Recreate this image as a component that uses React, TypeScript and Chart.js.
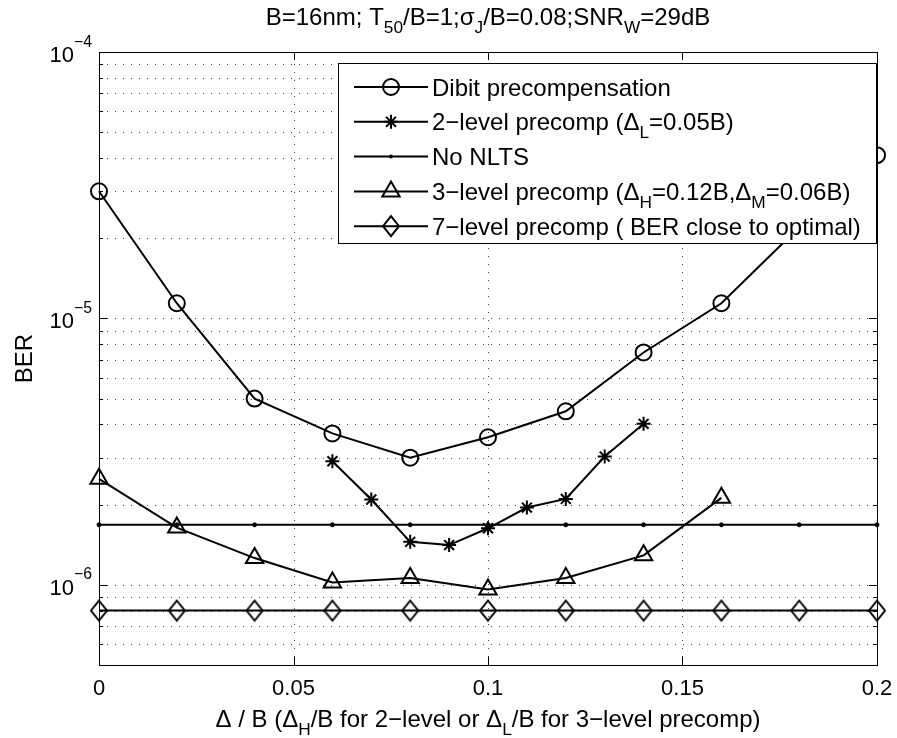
import React, { useEffect, useRef } from 'react';
import { Chart, registerables } from 'chart.js';

Chart.register(...registerables);

// ---------- data ----------
const xFull = [0, 0.02, 0.04, 0.06, 0.08, 0.1, 0.12, 0.14, 0.16, 0.18, 0.2];
const dibitBER = [3.0e-5, 1.14e-5, 5.0e-6, 3.7e-6, 3.0e-6, 3.58e-6, 4.48e-6, 7.45e-6, 1.14e-5, 2.2e-5, 4.1e-5];

const x2Level = [0.06, 0.07, 0.08, 0.09, 0.1, 0.11, 0.12, 0.13, 0.14];
const twoLevelBER = [2.91e-6, 2.09e-6, 1.45e-6, 1.41e-6, 1.63e-6, 1.95e-6, 2.1e-6, 3.03e-6, 4.02e-6];

const noNltsBER = [1.68e-6, 1.68e-6, 1.68e-6, 1.68e-6, 1.68e-6, 1.68e-6, 1.68e-6, 1.68e-6, 1.68e-6, 1.68e-6, 1.68e-6];

const x3Level = [0, 0.02, 0.04, 0.06, 0.08, 0.1, 0.12, 0.14, 0.16];
const threeLevelBER = [2.5e-6, 1.64e-6, 1.26e-6, 1.02e-6, 1.06e-6, 9.6e-7, 1.06e-6, 1.29e-6, 2.12e-6];

const sevenLevelBER = [8.0e-7, 8.0e-7, 8.0e-7, 8.0e-7, 8.0e-7, 8.0e-7, 8.0e-7, 8.0e-7, 8.0e-7, 8.0e-7, 8.0e-7];

const xTicks = [0, 0.05, 0.1, 0.15, 0.2];
const xTickLabels = ['0', '0.05', '0.1', '0.15', '0.2'];
const yDecades = [1e-6, 1e-5, 1e-4];
const yDecadeExp = ['\u22126', '\u22125', '\u22124'];
const yMinor = [
  5e-7, 6e-7, 7e-7, 8e-7, 9e-7,
  2e-6, 3e-6, 4e-6, 5e-6, 6e-6, 7e-6, 8e-6, 9e-6,
  2e-5, 3e-5, 4e-5, 5e-5, 6e-5, 7e-5, 8e-5, 9e-5,
];
const yMin = 5e-7;
const yMax = 1e-4;

type Seg = [string, '' | 'sub' | 'sup'];
const titleSegs: Seg[] = [['B=16nm; T', ''], ['50', 'sub'], ['/B=1;\u03c3', ''], ['J', 'sub'], ['/B=0.08;SNR', ''], ['W', 'sub'], ['=29dB', '']];
const xLabelSegs: Seg[] = [['\u0394 / B (\u0394', ''], ['H', 'sub'], ['/B for 2\u2212level or \u0394', ''], ['L', 'sub'], ['/B for 3\u2212level precomp)', '']];
const yLabel = 'BER';
const legendLabels: Seg[][] = [
  [['Dibit precompensation', '']],
  [['2\u2212level precomp (\u0394', ''], ['L', 'sub'], ['=0.05B)', '']],
  [['No NLTS', '']],
  [['3\u2212level precomp (\u0394', ''], ['H', 'sub'], ['=0.12B,\u0394', ''], ['M', 'sub'], ['=0.06B)', '']],
  [['7\u2212level precomp ( BER close to optimal)', '']],
];
const markerKinds = ['circle', 'star', 'dot', 'triangle', 'diamond'];

// ---------- helpers ----------
const FONT = '"Liberation Sans", Arial, Helvetica, sans-serif';
const DIAMOND_W = 8;
const DIAMOND_H = 10;
function setFont(ctx: CanvasRenderingContext2D, size: number) {
  ctx.font = `${size}px ${FONT}`;
}
function richWidth(ctx: CanvasRenderingContext2D, segs: Seg[], size: number) {
  let w = 0;
  for (const [t, m] of segs) {
    setFont(ctx, m ? size * 0.72 : size);
    w += ctx.measureText(t).width;
  }
  return w;
}
function drawRich(ctx: CanvasRenderingContext2D, segs: Seg[], x: number, y: number, size: number, align: 'left' | 'center' | 'right') {
  const w = richWidth(ctx, segs, size);
  let cx = align === 'left' ? x : align === 'center' ? x - w / 2 : x - w;
  ctx.textAlign = 'left';
  ctx.textBaseline = 'alphabetic';
  for (const [t, m] of segs) {
    const s = m ? size * 0.72 : size;
    const dy = m === 'sub' ? size * 0.33 : m === 'sup' ? -size * 0.7 : 0;
    setFont(ctx, s);
    ctx.fillText(t, cx, y + dy);
    cx += ctx.measureText(t).width;
  }
}
function diamondPath(ctx: CanvasRenderingContext2D, x: number, y: number) {
  ctx.moveTo(x, y - DIAMOND_H);
  ctx.lineTo(x + DIAMOND_W, y);
  ctx.lineTo(x, y + DIAMOND_H);
  ctx.lineTo(x - DIAMOND_W, y);
  ctx.closePath();
}
function makeDiamondCanvas() {
  const c = document.createElement('canvas');
  const w = DIAMOND_W * 2 + 4;
  const h = DIAMOND_H * 2 + 4;
  c.width = w;
  c.height = h;
  const g = c.getContext('2d')!;
  g.strokeStyle = '#000';
  g.lineWidth = 2;
  g.beginPath();
  diamondPath(g, w / 2, h / 2);
  g.stroke();
  return c;
}
function drawMarker(ctx: CanvasRenderingContext2D, kind: string, x: number, y: number) {
  ctx.beginPath();
  if (kind === 'circle') {
    ctx.arc(x, y, 8, 0, Math.PI * 2);
    ctx.stroke();
  } else if (kind === 'star') {
    const r = 7;
    const d = r * Math.SQRT1_2;
    ctx.moveTo(x - r, y); ctx.lineTo(x + r, y);
    ctx.moveTo(x, y - r); ctx.lineTo(x, y + r);
    ctx.moveTo(x - d, y - d); ctx.lineTo(x + d, y + d);
    ctx.moveTo(x - d, y + d); ctx.lineTo(x + d, y - d);
    ctx.stroke();
  } else if (kind === 'dot') {
    ctx.arc(x, y, 2, 0, Math.PI * 2);
    ctx.fill();
  } else if (kind === 'triangle') {
    const r = 10;
    for (let i = 0; i < 3; i++) {
      const a = (i * 2 * Math.PI) / 3;
      const px = x + Math.sin(a) * r;
      const py = y - Math.cos(a) * r;
      if (i === 0) ctx.moveTo(px, py); else ctx.lineTo(px, py);
    }
    ctx.closePath();
    ctx.stroke();
  } else if (kind === 'diamond') {
    diamondPath(ctx, x, y);
    ctx.stroke();
  }
}

const decorPlugin = {
  id: 'decor',
  beforeDraw(chart: any) {
    const ctx = chart.ctx as CanvasRenderingContext2D;
    ctx.save();
    ctx.fillStyle = '#fff';
    ctx.fillRect(0, 0, chart.width, chart.height);
    ctx.restore();
  },
  beforeDatasetsDraw(chart: any) {
    const ctx = chart.ctx as CanvasRenderingContext2D;
    const a = chart.chartArea;
    const xs = chart.scales.x;
    const ys = chart.scales.y;
    ctx.save();
    ctx.strokeStyle = '#444';
    ctx.lineWidth = 1;
    ctx.setLineDash([1, 7]);
    for (const v of xTicks) {
      const px = Math.round(xs.getPixelForValue(v)) + 0.5;
      if (px <= a.left + 1 || px >= a.right - 1) continue;
      ctx.beginPath(); ctx.moveTo(px, a.bottom); ctx.lineTo(px, a.top); ctx.stroke();
    }
    for (const v of [...yMinor, ...yDecades]) {
      const py = Math.round(ys.getPixelForValue(v)) + 0.5;
      if (py <= a.top + 1 || py >= a.bottom - 1) continue;
      ctx.beginPath(); ctx.moveTo(a.left, py); ctx.lineTo(a.right, py); ctx.stroke();
    }
    ctx.restore();
  },
  afterDatasetsDraw(chart: any) {
    const ctx = chart.ctx as CanvasRenderingContext2D;
    const a = chart.chartArea;
    const xs = chart.scales.x;
    const ys = chart.scales.y;
    ctx.save();
    ctx.strokeStyle = '#000';
    ctx.fillStyle = '#000';
    ctx.lineWidth = 1;
    ctx.setLineDash([]);
    // box
    ctx.strokeRect(Math.round(a.left) + 0.5, Math.round(a.top) + 0.5, Math.round(a.right - a.left), Math.round(a.bottom - a.top));
    // x ticks
    ctx.beginPath();
    for (const v of xTicks) {
      const px = Math.round(xs.getPixelForValue(v)) + 0.5;
      ctx.moveTo(px, a.bottom); ctx.lineTo(px, a.bottom - 8);
      ctx.moveTo(px, a.top); ctx.lineTo(px, a.top + 8);
    }
    // y ticks
    for (const v of yDecades) {
      const py = Math.round(ys.getPixelForValue(v)) + 0.5;
      ctx.moveTo(a.left, py); ctx.lineTo(a.left + 8, py);
      ctx.moveTo(a.right, py); ctx.lineTo(a.right - 8, py);
    }
    for (const v of yMinor) {
      const py = Math.round(ys.getPixelForValue(v)) + 0.5;
      ctx.moveTo(a.left, py); ctx.lineTo(a.left + 4, py);
      ctx.moveTo(a.right, py); ctx.lineTo(a.right - 4, py);
    }
    ctx.stroke();

    // x tick labels
    const tickSize = 22;
    xTicks.forEach((v, i) => {
      drawRich(ctx, [[xTickLabels[i], '']], xs.getPixelForValue(v), a.bottom + 30, tickSize, 'center');
    });
    // y tick labels
    yDecades.forEach((v, i) => {
      const py = ys.getPixelForValue(v);
      drawRich(ctx, [['10', ''], [yDecadeExp[i], 'sup']], a.left - 7, py + 10, tickSize, 'right');
    });
    // title
    drawRich(ctx, titleSegs, (a.left + a.right) / 2, 25, 24, 'center');
    // x label
    drawRich(ctx, xLabelSegs, (a.left + a.right) / 2, a.bottom + 62, 24, 'center');
    // y label
    ctx.save();
    ctx.translate(32, (a.top + a.bottom) / 2);
    ctx.rotate(-Math.PI / 2);
    setFont(ctx, 24);
    ctx.textAlign = 'center';
    ctx.textBaseline = 'alphabetic';
    ctx.fillText(yLabel, 0, 0);
    ctx.restore();

    // legend
    const lx = a.left + 239;
    const lr = a.right - 1;
    const lt = a.top + 11;
    const lb = a.top + 191;
    ctx.fillStyle = '#fff';
    ctx.fillRect(lx, lt, lr - lx, lb - lt);
    ctx.fillStyle = '#000';
    ctx.strokeRect(Math.round(lx) + 0.5, Math.round(lt) + 0.5, Math.round(lr - lx), Math.round(lb - lt));
    const legSize = 24;
    legendLabels.forEach((segs, i) => {
      const cy = lt + 24 + i * 34.8;
      ctx.lineWidth = 2;
      ctx.beginPath();
      ctx.moveTo(lx + 16, cy); ctx.lineTo(lx + 90, cy);
      ctx.stroke();
      drawMarker(ctx, markerKinds[i], lx + 53, cy);
      drawRich(ctx, segs, lx + 94, cy + 8.5, legSize, 'left');
    });
    ctx.restore();
  },
};

function pts(xs: number[], ys: number[]) {
  return xs.map((x, i) => ({ x, y: ys[i] }));
}

export default function App() {
  const ref = useRef<HTMLCanvasElement | null>(null);
  useEffect(() => {
    if (!ref.current) return;
    const base = {
      borderColor: '#000',
      borderWidth: 2,
      pointBorderColor: '#000',
      pointBackgroundColor: 'rgba(0,0,0,0)',
      pointBorderWidth: 2,
      tension: 0,
      fill: false,
      clip: false as any,
    };
    const diamond = makeDiamondCanvas();
    const chart = new Chart(ref.current, {
      type: 'line',
      data: {
        datasets: [
          { ...base, label: 'Dibit precompensation', data: pts(xFull, dibitBER), pointStyle: 'circle', pointRadius: 8 },
          { ...base, label: '2-level precomp', data: pts(x2Level, twoLevelBER), pointStyle: 'star', pointRadius: 7 },
          { ...base, label: 'No NLTS', data: pts(xFull, noNltsBER), pointStyle: 'circle', pointRadius: 2, pointBackgroundColor: '#000', pointBorderWidth: 1 },
          { ...base, label: '3-level precomp', data: pts(x3Level, threeLevelBER), pointStyle: 'triangle', pointRadius: 10 },
          { ...base, label: '7-level precomp', data: pts(xFull, sevenLevelBER), pointStyle: diamond, pointRadius: 10 },
        ] as any,
      },
      options: {
        responsive: false,
        animation: false,
        devicePixelRatio: 1,
        events: [],
        layout: { padding: { left: 99, right: 20, top: 52, bottom: 73 } },
        plugins: { legend: { display: false }, tooltip: { enabled: false }, title: { display: false } },
        scales: {
          x: { type: 'linear', min: 0, max: 0.2, display: false },
          y: { type: 'logarithmic', min: yMin, max: yMax, display: false },
        },
      },
      plugins: [decorPlugin],
    });
    return () => chart.destroy();
  }, []);
  return (
    <div style={{ position: 'fixed', left: 0, top: 0, width: 897, height: 738, background: '#fff' }}>
      <canvas ref={ref} width={897} height={738} style={{ display: 'block', width: 897, height: 738 }} />
    </div>
  );
}
